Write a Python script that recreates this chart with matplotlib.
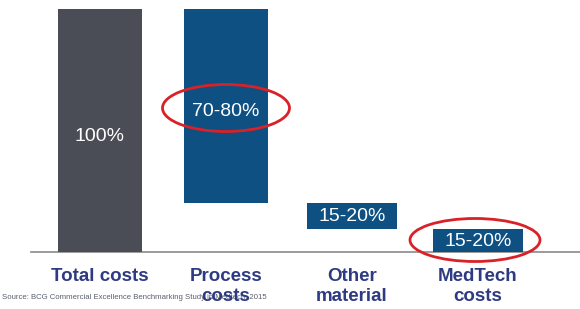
import matplotlib
matplotlib.use("Agg")
import matplotlib.pyplot as plt
from matplotlib.patches import Ellipse

plt.rcParams['font.family'] = ['Liberation Sans', 'DejaVu Sans']

categories = ["Total costs", "Process\ncosts", "Other\nmaterial", "MedTech\ncosts"]
bar_bottoms = [0, 20, 9.5, 0]
bar_tops = [100, 100, 20, 9.5]
bar_labels = ["100%", "70-80%", "15-20%", "15-20%"]
label_y = [47.5, 58.0, 14.6, 4.3]
source_text = "Source: BCG Commercial Excellence Benchmarking Study in Medtech, 2015"

gray = "#4a4d55"
blue = "#0d5081"
bar_colors = [gray, blue, blue, blue]
widths = [0.66, 0.67, 0.71, 0.71]

fig = plt.figure(figsize=(5.8, 3.09), dpi=100)
bottom = (309 - 252) / 309
top = (309 - 9) / 309
ax = fig.add_axes([0, bottom, 1, top - bottom])
ax.set_xlim(-100 / 126, 480 / 126)
ax.set_ylim(0, 100)
ax.axis('off')

x = list(range(len(categories)))
heights = [t - b for t, b in zip(bar_tops, bar_bottoms)]
ax.bar(x, heights, bottom=bar_bottoms, width=widths, color=bar_colors, zorder=2)

for xi, lab, ly in zip(x, bar_labels, label_y):
    ax.text(xi, ly, lab, color="white", fontsize=14, ha="center", va="center", zorder=3)

# baseline
ax.plot([-69 / 126, 480 / 126], [0, 0], color="#8a8a8a", lw=1.2, clip_on=False, zorder=1)

# category labels
for xi, cat in zip(x, categories):
    ax.text(xi, -6.6, cat, color="#2e3b82", fontsize=13.5, fontweight="bold",
            ha="center", va="top", linespacing=1.25, clip_on=False)

fig.text(0.004, 0.027, source_text, fontsize=5.6, color="#5a5f6e", ha="left", va="bottom",
         zorder=-1)

def px_to_data(px, py):
    return ((px - 100) / 126, (252 - py) / 243 * 100)

for (cx, cy, w, h) in [(226, 108, 127, 47), (475, 240, 130, 43)]:
    dx, dy = px_to_data(cx, cy)
    e = Ellipse((dx, dy), w / 126, h / 243 * 100, angle=0, fill=False,
                edgecolor="#d92128", lw=2, zorder=4, clip_on=False)
    ax.add_patch(e)

fig.savefig("out.png", dpi=100)
